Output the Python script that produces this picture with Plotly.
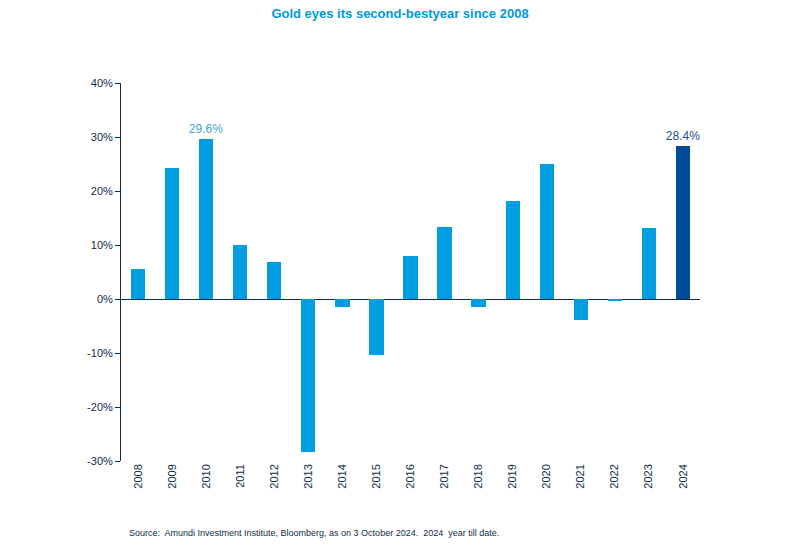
import plotly.graph_objects as go

years = [str(y) for y in range(2008, 2025)]
returns = [5.6, 24.3, 29.6, 10.0, 6.9, -28.3, -1.5, -10.4, 8.0, 13.3, -1.5, 18.2, 25.0, -3.8, -0.3, 13.1, 28.4]
labels = ["", "", "29.6%", "", "", "", "", "", "", "", "", "", "", "", "", "", "28.4%"]
tick_vals = [-30, -20, -10, 0, 10, 20, 30, 40]
tick_text = ["-30%", "-20%", "-10%", "0%", "10%", "20%", "30%", "40%"]

LIGHT = "#009ee0"
DARK = "#004b97"
NAVY = "#0d2c4a"

colors = [DARK if y == "2024" else LIGHT for y in years]
label_colors = ["#3aa6d9" if y == "2010" else "#1f4e8c" for y in years]

W, H = 800, 556
L, R, T, B = 121, 100, 83, 95
plot_h = H - T - B

fig = go.Figure()
fig.add_trace(go.Bar(
    x=years, y=returns, marker=dict(color=colors, line=dict(width=0)),
    width=0.42, text=labels, textposition="outside", cliponaxis=False,
    constraintext="none",
    textfont=dict(family="Liberation Sans, Arial", size=12, color=label_colors),
    hoverinfo="x+y",
))

fig.update_layout(
    width=W, height=H,
    margin=dict(l=L, r=R, t=T, b=B),
    plot_bgcolor="white", paper_bgcolor="white",
    font=dict(family="Liberation Sans, Arial", size=11, color=NAVY),
    showlegend=False,
    bargap=0,
    title=dict(text="<b>Gold eyes its second-bestyear since 2008</b>", x=0.5, xanchor="center",
               y=1 - 13 / H, yanchor="middle", font=dict(size=13, color="#0099d8")),
    annotations=[dict(
        text="Source:  Amundi Investment Institute, Bloomberg, as on 3 October 2024.  2024  year till date.",
        x=(127 - L) / (W - L - R), xanchor="left", y=-(533 - 461) / plot_h, yanchor="middle",
        xref="paper", yref="paper", showarrow=False, font=dict(size=9, color=NAVY),
    )],
)

fig.update_xaxes(
    type="category", tickangle=-90, showgrid=False, showline=False, ticks="",
    tickfont=dict(size=11, color=NAVY),
)
fig.update_yaxes(
    range=[-30, 40], tickvals=tick_vals, ticktext=tick_text, showgrid=False,
    showline=True, linecolor=NAVY, linewidth=1, ticks="outside", ticklen=5, tickcolor=NAVY,
    zeroline=True, zerolinecolor=NAVY, zerolinewidth=1,
    tickfont=dict(size=11, color=NAVY),
)

fig.write_html("out.html", config={"displayModeBar": False},
               post_script="document.body.style.margin='0';")
